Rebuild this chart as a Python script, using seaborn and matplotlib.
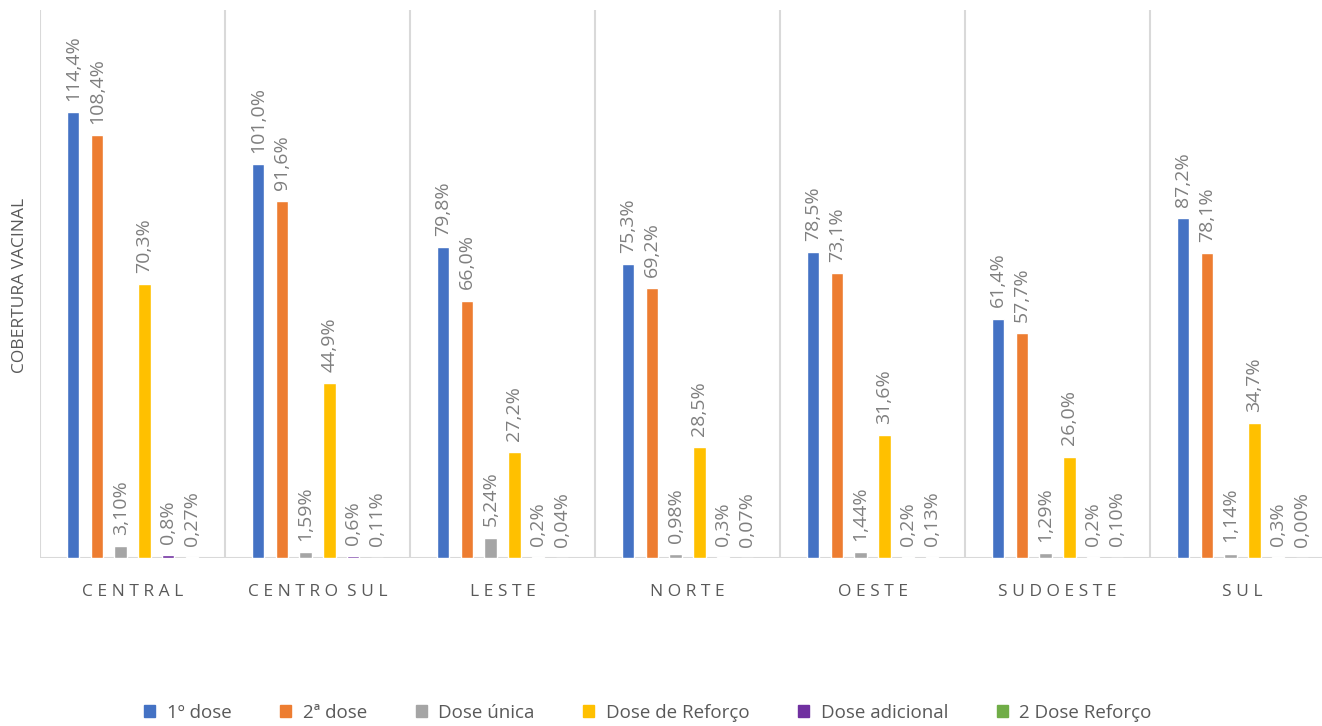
import pandas as pd
import matplotlib.pyplot as plt
import matplotlib.patches as mpatches
import seaborn as sns

# dados (cobertura vacinal, %)
regioes = ['CENTRAL', 'CENTRO SUL', 'LESTE', 'NORTE', 'OESTE', 'SUDOESTE', 'SUL']
doses = ['1º dose', '2ª dose', 'Dose única', 'Dose de Reforço',
         'Dose adicional', '2 Dose Reforço']
dose1 = [114.4, 101.0, 79.8, 75.3, 78.5, 61.4, 87.2]
dose2 = [108.4, 91.6, 66.0, 69.2, 73.1, 57.7, 78.1]
dose_unica = [3.10, 1.59, 5.24, 0.98, 1.44, 1.29, 1.14]
dose_reforco = [70.3, 44.9, 27.2, 28.5, 31.6, 26.0, 34.7]
dose_adicional = [0.8, 0.6, 0.2, 0.3, 0.2, 0.2, 0.3]
dose_reforco2 = [0.27, 0.11, 0.04, 0.07, 0.13, 0.10, 0.00]
casas = [1, 1, 2, 1, 1, 2]  # casas decimais dos rotulos de cada serie

cores = ['#4472C4', '#ED7D31', '#A5A5A5', '#FFC000', '#7030A0', '#70AD47']

series = [dose1, dose2, dose_unica, dose_reforco, dose_adicional, dose_reforco2]
rows = []
for d, vals in zip(doses, series):
    for r, v in zip(regioes, vals):
        rows.append({'regiao': r, 'dose': d, 'valor': v})
df = pd.DataFrame(rows)

sns.set_theme(style='white')
plt.rcParams['font.family'] = ['Open Sans', 'DejaVu Sans']

fig = plt.figure(figsize=(13.22, 7.26), dpi=100)
ax = fig.add_axes([40 / 1322, 1 - 558 / 726, 1295 / 1322, 548 / 726])

sns.barplot(data=df, x='regiao', y='valor', hue='dose', order=regioes,
            hue_order=doses, palette=cores, saturation=1, width=0.77,
            gap=0.48, errorbar=None, legend=False, ax=ax)

for cont, vals, nd in zip(ax.containers, series, casas):
    labels = [f'{v:.{nd}f}%'.replace('.', ',') for v in vals]
    ax.bar_label(cont, labels=labels, padding=8, rotation=90,
                 color='#7F7F7F', fontsize=14)

ax.set_xlim(-0.5, len(regioes) - 0.5)
ax.set_ylim(0, 140.5)
for i in range(len(regioes) + 1):
    ax.axvline(i - 0.5, color='#D9D9D9', lw=1.5, zorder=0)
ax.axhline(0, color='#D9D9D9', lw=1.5, zorder=0)
for s in ax.spines.values():
    s.set_visible(False)

ax.set_yticks([])
ax.set_xlabel('')
ax.set_ylabel('')
ax.set_xticks(range(len(regioes)))
ax.set_xticklabels([' '.join(r.replace(' ', '')) if r != 'CENTRO SUL'
                    else 'C E N T R O  S U L' for r in regioes],
                   color='#595959', fontsize=12.5)
ax.tick_params(axis='x', length=0, pad=19)

fig.text(20 / 1322, 1 - 285 / 726, 'COBERTURA VACINAL', rotation=90,
         ha='center', va='center', color='#595959', fontsize=12.5)

handles = [mpatches.Patch(color=c, label=d) for c, d in zip(cores, doses)]
fig.legend(handles=handles, loc='center', bbox_to_anchor=(0.49, 1 - 713 / 726),
           ncol=6, frameon=False, fontsize=13.5, handlelength=0.6,
           handleheight=0.6, handletextpad=0.6, columnspacing=2.6,
           labelcolor='#595959')

fig.savefig('out.png', dpi=100)
